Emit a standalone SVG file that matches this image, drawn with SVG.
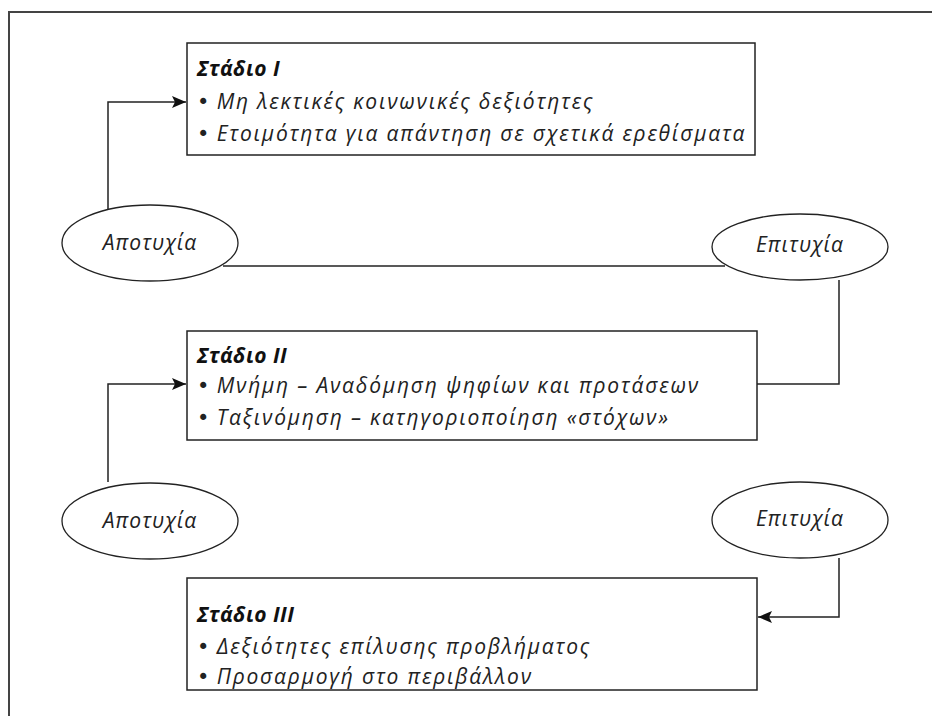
<svg xmlns="http://www.w3.org/2000/svg" width="932" height="716" viewBox="0 0 932 716">
<style>
.box{fill:#fff;stroke:#222;stroke-width:1.5}
.ell{fill:#fff;stroke:#222;stroke-width:1.3}
.ln{fill:none;stroke:#222;stroke-width:1.5}
text{font-family:"Open Sans","DejaVu Sans",sans-serif;font-style:italic;font-size:21px;letter-spacing:1.8px;fill:#222}
.t{font-weight:bold;font-size:21px;letter-spacing:0.5px;fill:#111}
.c{text-anchor:middle;letter-spacing:1px}
.b{font-family:"DejaVu Sans",sans-serif;font-size:21px;font-style:normal;letter-spacing:0}
</style>
<defs>
<marker id="ah" viewBox="0 0 14 12" refX="14" refY="6" markerWidth="14" markerHeight="12" markerUnits="userSpaceOnUse" orient="auto">
<path d="M0,0 L14,6 L0,12 L3,6 Z" fill="#111"/>
</marker>
</defs>
<path d="M9,716 V12 H932" fill="none" stroke="#444" stroke-width="2"/>
<g id="connectors">
<path class="ln" d="M108,209 V102 H186" marker-end="url(#ah)"/>
<path class="ln" d="M223,266 H725"/>
<path class="ln" d="M839,280 V384 H757"/>
<path class="ln" d="M108,482 V384 H186" marker-end="url(#ah)"/>
<path class="ln" d="M839,558 V617 H758" marker-end="url(#ah)"/>
</g>
<g id="stage1">
<rect class="box" x="187" y="43" width="568" height="112"/>
<text class="t" x="197" y="76">Στάδιο Ι</text>
<text x="197" y="109"><tspan class="b">•</tspan> Μη λεκτικές κοινωνικές δεξιότητες</text>
<text x="197" y="141"><tspan class="b">•</tspan> Ετοιμότητα για απάντηση σε σχετικά ερεθίσματα</text>
</g>
<g id="fail1">
<ellipse class="ell" cx="150" cy="243" rx="88" ry="38"/>
<text class="c" x="150" y="250">Αποτυχία</text>
</g>
<g id="success1">
<ellipse class="ell" cx="800" cy="247" rx="88" ry="33"/>
<text class="c" x="800" y="252">Επιτυχία</text>
</g>
<g id="stage2">
<rect class="box" x="187" y="331" width="570" height="109"/>
<text class="t" x="197" y="363">Στάδιο ΙΙ</text>
<text x="197" y="393"><tspan class="b">•</tspan> Μνήμη – Αναδόμηση ψηφίων και προτάσεων</text>
<text x="197" y="425"><tspan class="b">•</tspan> Ταξινόμηση – κατηγοριοποίηση «στόχων»</text>
</g>
<g id="fail2">
<ellipse class="ell" cx="150" cy="521" rx="88" ry="38"/>
<text class="c" x="150" y="528">Αποτυχία</text>
</g>
<g id="success2">
<ellipse class="ell" cx="800" cy="520" rx="88" ry="38"/>
<text class="c" x="800" y="526">Επιτυχία</text>
</g>
<g id="stage3">
<rect class="box" x="187" y="578" width="570" height="112"/>
<text class="t" x="197" y="622">Στάδιο ΙΙΙ</text>
<text x="197" y="654"><tspan class="b">•</tspan> Δεξιότητες επίλυσης προβλήματος</text>
<text x="197" y="684"><tspan class="b">•</tspan> Προσαρμογή στο περιβάλλον</text>
</g>
</svg>
